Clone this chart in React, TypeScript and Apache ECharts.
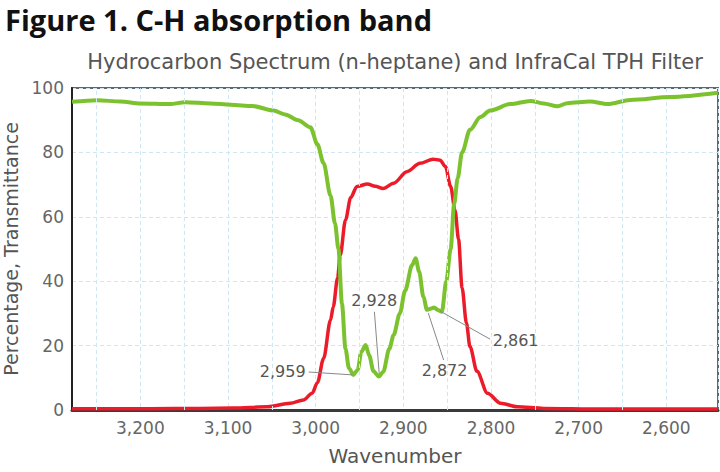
import React, { useEffect, useRef } from "react";
import * as echarts from "echarts";

const titleText = "Figure 1. C-H absorption band";
const subtitleText = "Hydrocarbon Spectrum (n-heptane) and InfraCal TPH Filter";
const xName = "Wavenumber";
const yName = "Percentage, Transmittance";

const greenX = [3278, 3249, 3223, 3200, 3166, 3149, 3120, 3097, 3072, 3048, 3035, 3020, 3006, 2998, 2991, 2983, 2978, 2974, 2970, 2966, 2962, 2957, 2952, 2948, 2943, 2939, 2934, 2928, 2923, 2916, 2911, 2904, 2898, 2890, 2886, 2882, 2877, 2873, 2868, 2865, 2860, 2856, 2851, 2846, 2842, 2838, 2833, 2824, 2812, 2801, 2778, 2755, 2740, 2724, 2713, 2687, 2667, 2641, 2595, 2541];
const greenY = [95.7, 96.2, 95.8, 95.2, 95.0, 95.6, 95.2, 94.8, 94.4, 93.0, 91.8, 90.0, 87.8, 82.5, 76.7, 66.5, 58, 50, 33, 19, 13, 10.9, 12.5, 18, 20.2, 17, 12, 10.4, 11.8, 19, 23.3, 30, 37, 45, 47.1, 43, 35, 31.1, 31.5, 31.8, 31, 30.5, 40, 50, 64, 72, 80, 87, 91, 93, 95, 96, 95.2, 94.3, 95.3, 95.8, 95.0, 96.3, 97.2, 98.5];

const redX = [3278, 3189, 3132, 3094, 3055, 3029, 3014, 3004, 2998, 2991, 2983, 2980, 2975, 2972, 2966, 2960, 2953, 2941, 2932, 2923, 2911, 2896, 2881, 2866, 2858, 2852, 2846, 2841, 2837, 2833, 2828, 2824, 2816, 2804, 2789, 2770, 2740, 2675, 2541];
const redY = [0.4, 0.4, 0.5, 0.6, 1.0, 2.1, 3.1, 5.2, 8.5, 16, 28, 32, 41, 48, 59, 66, 69.4, 70.2, 69.5, 68.8, 70.4, 74, 76.6, 77.9, 77.6, 75.6, 69.4, 62, 53, 38, 27, 19.7, 12, 5.2, 2.1, 1, 0.5, 0.3, 0.3];

const minorGridX = [3250, 3150, 3050, 2950, 2850, 2750, 2650];

// annotation: label, label-end point, curve point
const annotations = [
  { label: "2,959", from: [3008, 11.8], to: [2958, 10.9] },
  { label: "2,928", from: [2933, 30.5], to: [2927.5, 11.2] },
  { label: "2,872", from: [2854, 15.5], to: [2871.5, 30.1] },
  { label: "2,861", from: [2801, 22], to: [2858, 30.7] },
];

const FONT = "DejaVu Sans";

export default function App() {
  const ref = useRef<HTMLDivElement>(null);
  useEffect(() => {
    if (!ref.current) return;
    const chart = echarts.init(ref.current, undefined, { renderer: "svg" });
    const green = greenX.map((x, i) => [x, greenY[i]]);
    const red = redX.map((x, i) => [x, redY[i]]);
    const gridColor = "#cfe6f3";
    chart.setOption({
      animation: false,
      backgroundColor: "#ffffff",
      textStyle: { fontFamily: FONT },
      title: {
        text: titleText,
        left: 0,
        top: 0,
        textStyle: { fontFamily: "Open Sans", fontWeight: 700, fontSize: 29, color: "#111" },
      },
      graphic: [
        {
          type: "text",
          x: 395,
          y: 62,
          style: {
            text: subtitleText,
            textAlign: "center",
            textVerticalAlign: "middle",
            fontFamily: FONT,
            fontSize: 21,
            fill: "#555",
          },
        },
      ],
      grid: {
        left: 72,
        right: 2,
        top: 88,
        bottom: 62,
        show: true,
        borderColor: "#666",
        borderWidth: 2,
        containLabel: false,
        outerBoundsMode: "none",
      },
      xAxis: {
        type: "value",
        inverse: true,
        min: 2541,
        max: 3278,
        splitNumber: 7,
        name: xName,
        nameLocation: "middle",
        nameGap: 36,
        nameTextStyle: { fontFamily: FONT, fontSize: 20, color: "#555" },
        axisLine: { show: true, lineStyle: { color: "#3a3a3a", width: 3 } },
        axisTick: { show: false },
        axisLabel: {
          fontFamily: FONT,
          fontSize: 17,
          color: "#666",
          margin: 9,
          showMinLabel: false,
          showMaxLabel: false,
          formatter: (v: number) => v.toLocaleString("en-US"),
        },
        splitLine: { show: true, lineStyle: { color: gridColor, type: [4, 3], width: 1 } },
      },
      yAxis: {
        type: "value",
        min: 0,
        max: 100,
        interval: 20,
        name: yName,
        nameLocation: "middle",
        nameGap: 48,
        nameTextStyle: { fontFamily: FONT, fontSize: 19, color: "#555" },
        axisLine: { show: true, lineStyle: { color: "#222", width: 2 } },
        axisTick: { show: false },
        axisLabel: { fontFamily: FONT, fontSize: 17, color: "#666", margin: 8 },
        splitLine: { show: true, lineStyle: { color: gridColor, type: [4, 3], width: 1 } },
      },
      series: [
        {
          type: "line",
          data: green,
          symbol: "none",
          silent: true,
          z: 1,
          lineStyle: { opacity: 0 },
          markLine: {
            silent: true,
            symbol: "none",
            label: { show: false },
            lineStyle: { color: gridColor, type: [4, 3], width: 1 },
            data: minorGridX.map((x) => ({ xAxis: x })),
          },
        },
        {
          type: "line",
          name: "filter",
          data: red,
          symbol: "none",
          smooth: 0.3,
          smoothMonotone: "x",
          z: 3,
          lineStyle: { color: "#ec1b2a", width: 3.5 },
        },
        {
          type: "line",
          name: "heptane",
          data: green,
          symbol: "none",
          smooth: 0.3,
          smoothMonotone: "x",
          z: 4,
          lineStyle: { color: "#7cc22f", width: 4 },
          markLine: {
            silent: true,
            symbol: "none",
            lineStyle: { color: "#888", width: 1, type: "solid" },
            label: {
              show: true,
              position: "start",
              formatter: "{b}",
              fontFamily: FONT,
              fontSize: 16,
              color: "#555",
              distance: 3,
            },
            data: annotations.map((a) => [
              { coord: a.from, name: a.label },
              { coord: a.to },
            ]),
          },
        },
      ],
    });
    return () => chart.dispose();
  }, []);
  return (
    <div
      ref={ref}
      style={{ position: "fixed", left: 0, top: 0, width: 720, height: 472 }}
    />
  );
}
